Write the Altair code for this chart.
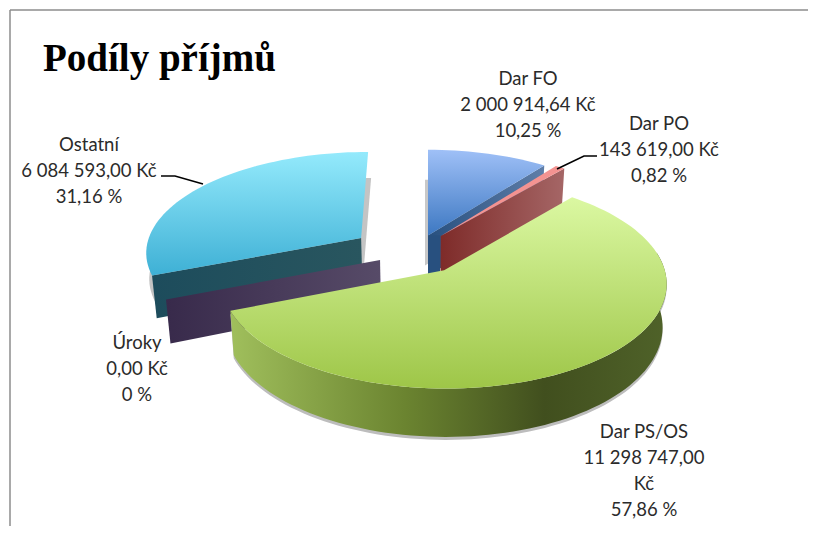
import math
import altair as alt
import pandas as pd

# ---- chart values ----
names = ["Dar FO", "Dar PO", "Dar PS/OS", "Úroky", "Ostatní"]
amounts = ["2 000 914,64 Kč", "143 619,00 Kč", "11 298 747,00\nKč", "0,00 Kč", "6 084 593,00 Kč"]
percents = ["10,25 %", "0,82 %", "57,86 %", "0 %", "31,16 %"]
shares = [10.25, 0.82, 57.86, 0.0, 31.07]
chart_title = "Podíly příjmů"

# ---- presentation: explosion offset of each slice on the disc ----
explode_x = [0.0, 0.06, 0.073, -0.22, -0.315]
explode_y = [0.25, 0.243, -0.10, 0.0, 0.222]
label_x = [528, 659, 644, 137, 89]
label_y = [79, 124, 432, 343, 145]

CX, A, P, HY, B, H, F = 428, 218, 0.12, -585, 845, 42, 0.983
W, HT = 800, 518


def proj(X, Y, low=False):
    s = 1 / (1 + P * Y)
    x = CX + A * X * s
    y = HY + B * s
    if low:
        x = CX + (x - CX) * F
        y = y + H * s
    return x, y


def rim(i, deg, low=False):
    t = math.radians(deg)
    return proj(math.sin(t) + explode_x[i], math.cos(t) + explode_y[i], low)


def apex(i, low=False):
    return proj(explode_x[i], explode_y[i], low)


def arc_range(a, b, step=2.0):
    n = max(1, int(abs(b - a) / step))
    return [a + (b - a) * k / n for k in range(n + 1)]


starts = []
acc = 0.0
for v in shares:
    starts.append(acc * 3.6)
    acc += v
ends = [s + v * 3.6 for s, v in zip(starts, shares)]

sx = alt.Scale(domain=[8, 8 + W], range=[0, W])
sy = alt.Scale(domain=[8 + HT, 8], range=[HT, 0])


def grad(c1, c2, horizontal=False, mid=None):
    stops = [alt.GradientStop(offset=0, color=c1)]
    if mid:
        for o, c in mid:
            stops.append(alt.GradientStop(offset=o, color=c))
    stops.append(alt.GradientStop(offset=1, color=c2))
    if horizontal:
        return alt.Gradient(gradient="linear", x1=0, x2=1, y1=0, y2=0, stops=stops)
    return alt.Gradient(gradient="linear", x1=0, x2=0, y1=0, y2=1, stops=stops)


def piece(points, fill, dx=0, dy=0):
    pts = list(points) + [points[0]]
    df = pd.DataFrame({"x": [p[0] + dx for p in pts], "y": [p[1] + dy for p in pts], "i": range(len(pts))})
    return alt.Chart(df).mark_line(fill=fill, stroke=fill if isinstance(fill, str) else "transparent", strokeWidth=0, interpolate="linear").encode(
        x=alt.X("x:Q", scale=sx, axis=None),
        y=alt.Y("y:Q", scale=sy, axis=None),
        order="i:Q",
    )


def top(i):
    return [apex(i)] + [rim(i, d) for d in arc_range(starts[i], ends[i])]


def cut(i, deg):
    return [apex(i), rim(i, deg), rim(i, deg, True), apex(i, True)]


def outer(i, a, b):
    r = arc_range(a, b)
    return [rim(i, d) for d in r] + [rim(i, d, True) for d in reversed(r)]


layers = []

# soft shadows
layers.append(piece(top(4), "#c4c4c4", dx=3, dy=26))
layers.append(piece(top(0), "#c8c8c8", dx=-3, dy=30))

# Ostatní
layers.append(piece(cut(4, starts[4]), grad("#1d4c5c", "#29565f", True)))
layers.append(piece(top(4), grad("#94eafc", "#3eb0d5")))

# Dar FO
layers.append(piece(cut(0, ends[0]), grad("#28507f", "#5f7ea8", True)))
layers.append(piece(top(0), grad("#9fc0f7", "#3d78c2")))
layers.append(piece([apex(0), apex(0, True), (apex(0)[0] + 12, apex(0, True)[1]), (apex(0)[0] + 12, apex(0)[1])], "#28507f"))

# Dar PO
layers.append(piece(cut(1, ends[1]), grad("#7e2b29", "#a56666", True)))
layers.append(piece(top(1), "#f49391"))

# Úroky
layers.append(piece(cut(3, starts[3]), grad("#382a4b", "#574b68", True)))

# Dar PS/OS
layers.append(piece(outer(2, 80, ends[2]), "#bdbdbd", dx=0, dy=3))
layers.append(piece(
    outer(2, 80, ends[2]),
    grad("#a0bf5c", "#4f6229", True, mid=[(0.4, "#6b8430"), (0.72, "#414f1e")]),
))
layers.append(piece(top(2), grad("#dbf8a2", "#9ec648")))

# leader lines
for line in ([(161, 176), (175, 176), (203, 184)], [(557, 169), (584, 156), (597, 156)]):
    df = pd.DataFrame({"x": [p[0] for p in line], "y": [p[1] for p in line], "i": range(len(line))})
    layers.append(alt.Chart(df).mark_line(color="#000000", strokeWidth=1.6).encode(
        x=alt.X("x:Q", scale=sx, axis=None), y=alt.Y("y:Q", scale=sy, axis=None), order="i:Q"))

# labels
rows = []
for n, am, pc, lx, ly in zip(names, amounts, percents, label_x, label_y):
    lines = [n] + am.split("\n") + [pc]
    for k, t in enumerate(lines):
        rows.append({"x": lx, "y": ly + k * 26, "t": t})
layers.append(alt.Chart(pd.DataFrame(rows)).mark_text(font="Lato", fontSize=18.5, color="#2b2b2b", align="center", baseline="middle").encode(
    x=alt.X("x:Q", scale=sx, axis=None), y=alt.Y("y:Q", scale=sy, axis=None), text="t:N"))

# title
layers.append(alt.Chart(pd.DataFrame({"x": [43], "y": [59], "t": [chart_title]})).mark_text(
    font="Liberation Serif", fontWeight="bold", fontSize=39, color="#000000", align="left", baseline="middle").encode(
    x=alt.X("x:Q", scale=sx, axis=None), y=alt.Y("y:Q", scale=sy, axis=None), text="t:N"))

# frame
layers.append(alt.Chart(pd.DataFrame({"a": [0]})).mark_rule(color="#8c8c8c", strokeWidth=1.5).encode(
    x=alt.value(2), y=alt.value(2), y2=alt.value(HT)))
layers.append(alt.Chart(pd.DataFrame({"a": [0]})).mark_rule(color="#8c8c8c", strokeWidth=1.5).encode(
    y=alt.value(2), x=alt.value(2), x2=alt.value(W)))

chart = alt.layer(*layers).properties(
    width=W, height=HT, padding=0, autosize=alt.AutoSizeParams(type="none"), background="#ffffff"
).configure_view(stroke=None)

chart.save("out.html", embed_options={"renderer": "svg", "actions": False})
